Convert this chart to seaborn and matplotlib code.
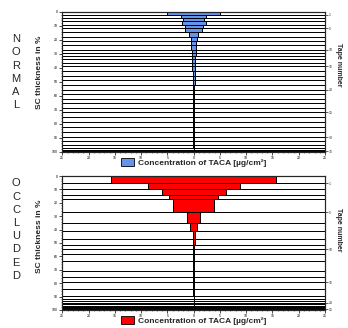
import numpy as np
import matplotlib
matplotlib.use("Agg")
import matplotlib.pyplot as plt
from matplotlib.patches import Patch
from matplotlib.ticker import MultipleLocator, FuncFormatter
import seaborn as sns

# thickness of every tape strip in % of the SC, and the TACA amount found on it
normal_thickness = [1.9, 2.5, 2.3, 2.4, 2.4, 3.0, 3.2, 3.1, 3.0, 3.2,
                    2.3, 2.4, 2.3, 2.4, 2.3, 3.4, 3.5, 3.3, 3.4, 3.5,
                    3.2, 3.1, 3.2, 3.1, 3.2, 3.6, 3.7, 3.5, 3.6, 3.6,
                    3.0, 2.6, 2.0, 1.3, 1.0]
normal_conc = [5.0, 2.4, 2.0, 2.3, 1.7, 1.6, 0.9, 0.6, 0.5, 0.45,
               0.4, 0.35, 0.3, 0.3, 0.25, 0.25, 0.2, 0.2, 0.2, 0.15,
               0.15, 0.1, 0.1, 0.1, 0.1, 0.08, 0.08, 0.06, 0.06, 0.05,
               0.05, 0.04, 0.04, 0.03, 0.03]

occluded_thickness = [5.4, 4.4, 4.4, 3.0, 10.0, 7.8, 6.2, 5.8, 4.2, 3.3,
                      3.7, 5.0, 7.4, 5.0, 3.7, 5.0, 5.0, 2.2, 1.5, 1.5,
                      1.1, 1.1, 1.0, 1.0, 0.8]
occluded_conc = [15.7, 8.75, 6.1, 4.7, 3.9, 1.3, 0.7, 0.2, 0.2, 0.1,
                 0.08, 0.06, 0.05, 0.05, 0.05, 0.04, 0.04, 0.03, 0.03, 0.03,
                 0.02, 0.02, 0.02, 0.02, 0.02]

tape_ticks_normal = [1, 5, 10, 15, 20, 25, 30, 35]
tape_ticks_occluded = [1, 5, 10, 15, 20, 25]
legend_label = "Concentration of TACA [µg/cm²]"

sns.set_style("ticks")
plt.rcParams["font.family"] = ["Liberation Sans", "DejaVu Sans"]


def plot_panel(ax, thickness, conc, color, tape_ticks, label_y):
    thickness = np.asarray(thickness)
    conc = np.asarray(conc)
    ends = np.cumsum(thickness)
    start = ends - thickness
    # white strip for every tape, then the mirrored bar on top
    ax.barh(start, 50, left=-25, height=thickness, align='edge',
            color='white', edgecolor='black', lw=0.7)
    ax.barh(start, 2 * conc, left=-conc, height=thickness, align='edge',
            color=color, edgecolor='black', lw=0.7)
    ax.set_xlim(-25, 25)
    ax.set_ylim(100, 0)
    ax.xaxis.set_major_locator(MultipleLocator(5))
    ax.xaxis.set_minor_locator(MultipleLocator(1))
    ax.xaxis.set_major_formatter(FuncFormatter(lambda v, p: f"{abs(v):g}"))
    ax.yaxis.set_major_locator(MultipleLocator(10))
    ax.yaxis.set_minor_locator(MultipleLocator(2))
    ax.tick_params(which='major', length=2, width=0.5, labelsize=2.5, pad=1, colors='black')
    ax.tick_params(which='minor', length=1, width=0.4)
    for s in ax.spines.values():
        s.set_linewidth(0.8)
    ax.set_ylabel("SC thickness in %", fontsize=6, fontweight='bold')
    ax.yaxis.set_label_coords(-0.073, label_y)

    ax2 = ax.twinx()
    ax2.set_ylim(100, 0)
    ax2.set_yticks([ends[t - 1] for t in tape_ticks])
    ax2.set_yticklabels([str(t) for t in tape_ticks])
    ax2.tick_params(length=2, width=0.5, labelsize=2.5, pad=1)
    ax2.set_ylabel("Tape number", fontsize=5, fontweight='bold', rotation=270,
                   va='center')
    ax2.yaxis.set_label_coords(1.05, label_y + 0.05)
    ax2.grid(False)

    handle = Patch(facecolor=color, edgecolor='black', lw=0.6, label=legend_label)
    ax.legend(handles=[handle], loc='upper center', bbox_to_anchor=(0.5, -0.005),
              frameon=False, prop={'size': 6, 'weight': 'bold'},
              handlelength=1.6, handleheight=1.0, handletextpad=0.4, borderpad=0.2)


fig = plt.figure(figsize=(3.48, 3.28), dpi=100)
ax_top = fig.add_axes([0.179, 0.5375, 0.755, 0.426])
ax_bot = fig.add_axes([0.179, 0.0549, 0.755, 0.4085])

plot_panel(ax_top, normal_thickness, normal_conc, "#6495ED", tape_ticks_normal, 0.57)
plot_panel(ax_bot, occluded_thickness, occluded_conc, "#FF0000", tape_ticks_occluded, 0.55)

fig.text(16 / 348, 0.78, "\n".join("NORMAL"), ha='center', va='center',
         fontsize=8, linespacing=1.4)
fig.text(16 / 348, 0.30, "\n".join("OCCLUDED"), ha='center', va='center',
         fontsize=8, linespacing=1.4)

fig.savefig("out.png", dpi=100)
